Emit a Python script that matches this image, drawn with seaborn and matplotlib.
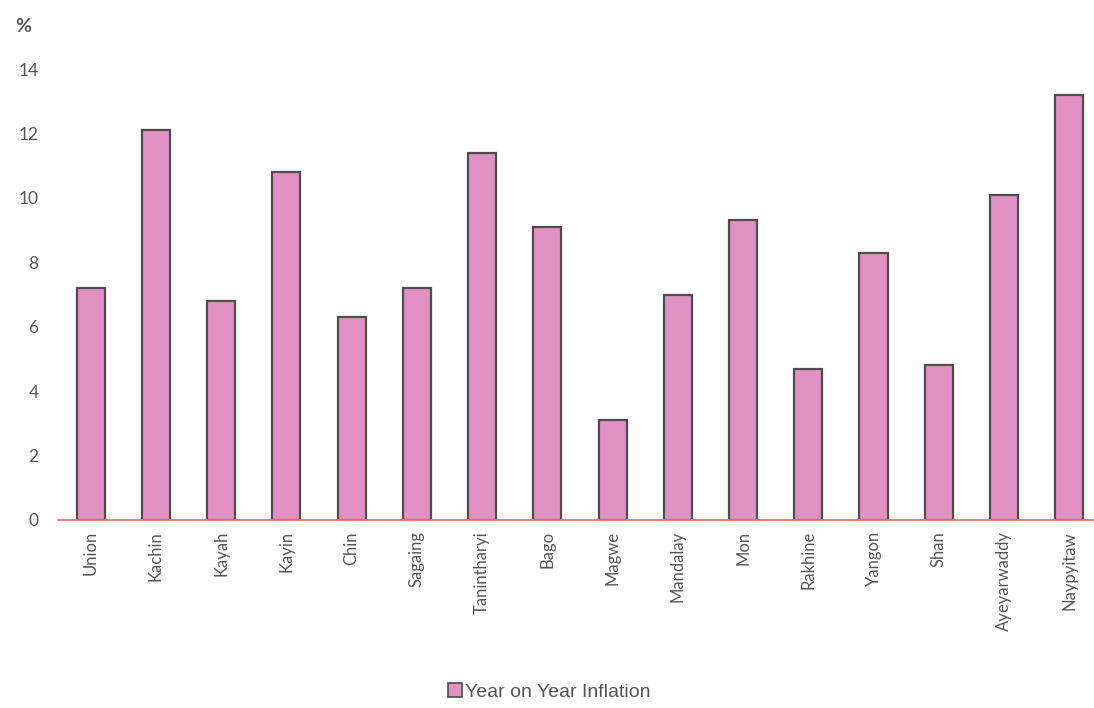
import matplotlib
matplotlib.use("Agg")
import matplotlib.pyplot as plt
import seaborn as sns
import pandas as pd
from matplotlib.patches import Patch

regions = ["Union", "Kachin", "Kayah", "Kayin", "Chin", "Sagaing", "Tanintharyi", "Bago",
           "Magwe", "Mandalay", "Mon", "Rakhine", "Yangon", "Shan", "Ayeyarwaddy", "Naypyitaw"]
inflation = [7.2, 12.1, 6.8, 10.8, 6.3, 7.2, 11.4, 9.1, 3.1, 7.0, 9.3, 4.7, 8.3, 4.8, 10.1, 13.2]
y_ticks = [0, 2, 4, 6, 8, 10, 12, 14]
series_name = "Year on Year Inflation"

sns.set_style("white")
plt.rcParams['font.family'] = ['Lato', 'DejaVu Sans']

df = pd.DataFrame({"Region": regions, "Inflation": inflation})

fig = plt.figure(figsize=(10.94, 7.08), dpi=100)
ax = fig.add_axes([58 / 1094, 1 - 520 / 708, 1 - 58 / 1094, (520 - 69) / 708])

bar_color = "#E291C4"
sns.barplot(data=df, x="Region", y="Inflation", color=bar_color, width=0.43,
            edgecolor="#4d4d4d", linewidth=1.6, saturation=1, ax=ax)

ax.set_ylim(0, 14)
ax.set_xlim(-0.5, 15.38)
ax.set_yticks(y_ticks)
ax.set_yticklabels([str(t) for t in y_ticks], fontsize=12.5, color="#555555")
ax.tick_params(axis="y", length=0, pad=14)
ax.tick_params(axis="x", length=0, pad=8)
ax.set_xticks(range(len(regions)))
ax.set_xticklabels(regions, rotation=90, fontsize=12, color="#555555")
ax.set_xlabel("")
ax.set_ylabel("")
for s in ["top", "right", "left"]:
    ax.spines[s].set_visible(False)
ax.spines["bottom"].set_color("#E07A6A")
ax.spines["bottom"].set_linewidth(1.3)
ax.grid(False)

fig.text(15 / 1094, 1 - 27 / 708, "%", fontsize=14, color="#555555", va="center", ha="left",
         fontweight="bold")

handle = Patch(facecolor=bar_color, edgecolor="#4d4d4d", linewidth=1.2)
leg = fig.legend([handle], [series_name], loc="center", bbox_to_anchor=(549 / 1094, 1 - 692 / 708),
                 frameon=False, handlelength=0.7, handleheight=0.7, handletextpad=0.15,
                 labelcolor="#555555", prop={"family": "Liberation Sans", "size": 14})

fig.savefig("out.png", dpi=100)
